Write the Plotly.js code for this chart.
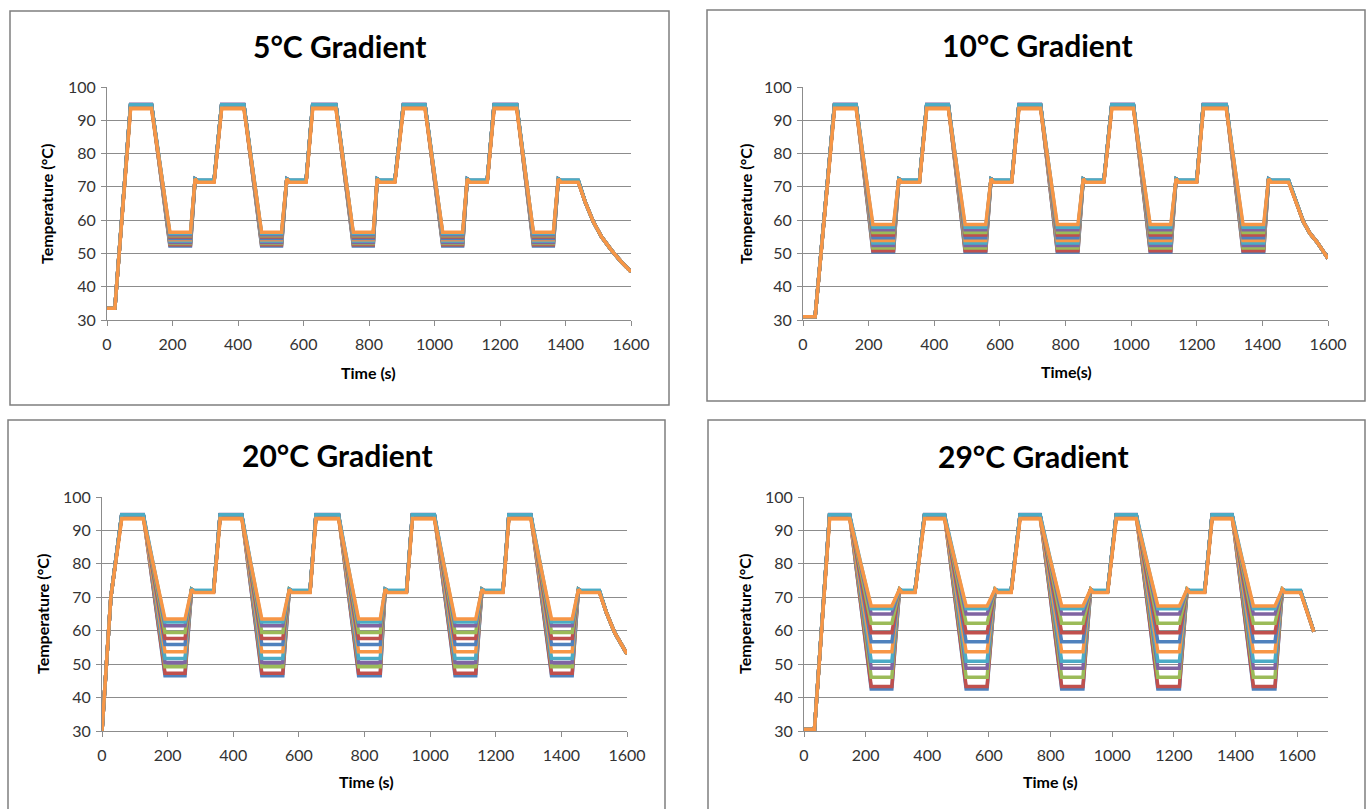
<!DOCTYPE html>
<html>
<head>
<meta charset="utf-8">
<script src="https://cdn.plot.ly/plotly-3.0.1.min.js"></script>
<style>html,body{margin:0;padding:0;background:#fff;}#chart{width:1367px;height:809px;}</style>
</head>
<body>
<div id="chart"></div>
<script>
// ---- DATA ----
// Tokens in profiles: H = top hold (per series), L = low hold (per series), M = 72°C hold (per series)
const H = 'H', L = 'L', M = 'M';

const seriesColors = ['#4F81BD', '#C0504D', '#9BBB59', '#8064A2', '#4BACC6', '#F79646',
                      '#4F81BD', '#C0504D', '#9BBB59', '#8064A2', '#4BACC6', '#F79646'];
const topTemps = [94.6, 94.5, 94.7, 94.8, 94.7, 93.5, 94.6, 94.4, 94.5, 94.6, 94.7, 93.6];
const midTemps = [71.8, 71.7, 71.9, 71.8, 72.0, 71.5, 71.8, 71.7, 71.8, 71.9, 72.0, 71.4];

const panelTitles = ['5°C Gradient', '10°C Gradient', '20°C Gradient', '29°C Gradient'];
const yTitle = 'Temperature (°C)';
const xTitles = ['Time (s)', 'Time(s)', 'Time (s)', 'Time (s)'];
const xTickVals = [0, 200, 400, 600, 800, 1000, 1200, 1400, 1600];
const yTickVals = [30, 40, 50, 60, 70, 80, 90, 100];

// 5°C gradient
const p1Times = [0, 24, 72, 136, 192, 255, 269, 277, 327, 350, 418, 472, 533, 549, 557, 608, 628, 699, 752, 813, 825, 833, 879, 905, 971, 1025, 1086, 1100, 1108, 1161, 1182, 1251, 1302, 1363, 1378, 1386, 1439, 1460, 1485, 1510, 1540, 1570, 1600];
const p1Profile = [33.5, 33.5, H, H, L, L, 72.4, M, M, H, H, L, L, 72.4, M, M, H, H, L, L, 72.4, M, M, H, H, L, L, 72.4, M, M, H, H, L, L, 72.4, M, M, 65.5, 59.5, 55, 51, 47.5, 44.5];
const p1Lows = [52.2, 52.6, 53.0, 53.3, 53.7, 54.1, 54.5, 54.9, 55.3, 55.6, 56.0, 56.4];

// 10°C gradient
const p2Times = [0, 37, 96, 162, 213, 276, 292, 300, 355, 377, 443, 494, 557, 573, 581, 636, 658, 724, 775, 838, 854, 862, 917, 941, 1007, 1058, 1121, 1137, 1145, 1200, 1220, 1290, 1341, 1404, 1419, 1427, 1480, 1503, 1525, 1545, 1566, 1600];
const p2Profile = [31, 31, H, H, L, L, 72.4, M, M, H, H, L, L, 72.4, M, M, H, H, L, L, 72.4, M, M, H, H, L, L, 72.4, M, M, H, H, L, L, 72.4, M, M, 65.5, 59.5, 56, 53.5, 48.5];
const p2Lows = [50.4, 50.8, 51.6, 52.4, 53.1, 53.9, 54.7, 55.5, 56.3, 57.1, 57.9, 58.7];

// 20°C gradient
const p3Times = [0, 27, 60, 126, 192, 253, 273, 281, 340, 360, 426, 487, 551, 571, 579, 634, 652, 721, 782, 848, 863, 871, 928, 946, 1013, 1076, 1139, 1158, 1166, 1222, 1240, 1307, 1370, 1433, 1452, 1460, 1516, 1537, 1562, 1587, 1600];
const p3Profile = [30, 70, H, H, L, L, 72.4, M, M, H, H, L, L, 72.4, M, M, H, H, L, L, 72.4, M, M, H, H, L, L, 72.4, M, M, H, H, L, L, 72.4, M, M, 65.5, 59.5, 55, 53];
const p3Lows = [46.5, 47.3, 49.2, 50.5, 51.7, 53.7, 55.9, 57.7, 59.5, 61.5, 62.6, 63.5];

// 29°C gradient
const p4Times = [0, 34, 83, 148, 218, 285, 310, 318, 360, 391, 456, 526, 594, 620, 628, 672, 701, 766, 836, 905, 930, 938, 985, 1013, 1078, 1148, 1218, 1243, 1251, 1300, 1324, 1389, 1458, 1528, 1552, 1560, 1611, 1654];
const p4Profile = [30.5, 30.5, H, H, L, L, 72.4, M, M, H, H, L, L, 72.4, M, M, H, H, L, L, 72.4, M, M, H, H, L, L, 72.4, M, M, H, H, L, L, 72.4, M, M, 59.7];
const p4Lows = [42.6, 43.3, 46.1, 48.8, 50.9, 53.7, 56.7, 59.4, 62.2, 65.0, 66.6, 67.4];

// ---- BUILD ----
const W = 1367, Ht = 809;
const px = v => v / W, py = v => 1 - v / Ht;

function seriesY(profile, i, lows) {
  return profile.map(v => v === H ? topTemps[i] : v === L ? lows[i] : v === M ? midTemps[i] : v);
}

const panels = [
  {times: p1Times, profile: p1Profile, lows: p1Lows, xr: [0, 1600], box: [10, 11, 669, 405], plot: [107, 87, 631, 320], title: [339, 46], yt: [46, 204], xt: [368, 373]},
  {times: p2Times, profile: p2Profile, lows: p2Lows, xr: [0, 1600], box: [707, 10, 1365, 401], plot: [803, 87, 1328, 320], title: [1037, 45], yt: [745, 204], xt: [1066, 371]},
  {times: p3Times, profile: p3Profile, lows: p3Lows, xr: [0, 1600], box: [8, 420, 665, 812], plot: [102, 497, 627, 731], title: [337, 455], yt: [42, 614], xt: [366, 781]},
  {times: p4Times, profile: p4Profile, lows: p4Lows, xr: [0, 1700], box: [708, 420, 1365, 812], plot: [804, 497, 1328, 731], title: [1033, 456], yt: [744, 614], xt: [1050, 781]}
];

const FONT = 'Lato, "Open Sans", sans-serif';
const traces = [];
const layout = {
  width: W, height: Ht,
  margin: {l: 0, r: 0, t: 0, b: 0},
  paper_bgcolor: '#fff', plot_bgcolor: '#fff',
  showlegend: false,
  font: {family: FONT, color: '#404040'},
  shapes: [], annotations: []
};

const gridC = '#8c8c8c';
panels.forEach((p, k) => {
  const n = k === 0 ? '' : String(k + 1);
  for (let i = 0; i < p.lows.length; i++) {
    traces.push({
      type: 'scatter', mode: 'lines',
      x: p.times, y: seriesY(p.profile, i, p.lows),
      line: {color: seriesColors[i], width: 3.5},
      xaxis: 'x' + n, yaxis: 'y' + n,
      hoverinfo: 'skip', showlegend: false
    });
  }
  layout['xaxis' + n] = {
    domain: [px(p.plot[0]), px(p.plot[2])], range: p.xr, anchor: 'y' + n,
    tickmode: 'array', tickvals: xTickVals, ticktext: xTickVals.map(String),
    ticks: 'outside', ticklen: 5, tickcolor: gridC, tickwidth: 1,
    showline: true, linecolor: gridC, linewidth: 1,
    showgrid: false, zeroline: false, fixedrange: true, ticklabelstandoff: 5,
    tickfont: {family: FONT, size: 16, color: '#333'}
  };
  layout['yaxis' + n] = {
    domain: [py(p.plot[3]), py(p.plot[1])], range: [30, 100], anchor: 'x' + n,
    tickmode: 'array', tickvals: yTickVals, ticktext: yTickVals.map(String),
    ticks: 'outside', ticklen: 5, tickcolor: gridC, tickwidth: 1,
    showline: true, linecolor: gridC, linewidth: 1,
    showgrid: true, gridcolor: gridC, gridwidth: 1,
    zeroline: false, fixedrange: true, ticklabelstandoff: 2,
    tickfont: {family: FONT, size: 16, color: '#333'}
  };
  layout.shapes.push({
    type: 'rect', xref: 'paper', yref: 'paper',
    x0: px(p.box[0]), x1: px(p.box[2]), y0: py(p.box[3]), y1: py(p.box[1]),
    line: {color: '#7f7f7f', width: 1.5}, fillcolor: 'rgba(0,0,0,0)', layer: 'below'
  });
  layout.annotations.push({
    xref: 'paper', yref: 'paper', x: px(p.title[0]), y: py(p.title[1]),
    xanchor: 'center', yanchor: 'middle', showarrow: false,
    text: '<b>' + panelTitles[k] + '</b>',
    font: {family: FONT, size: 30, color: '#000'}
  });
  layout.annotations.push({
    xref: 'paper', yref: 'paper', x: px(p.yt[0]), y: py(p.yt[1]),
    xanchor: 'center', yanchor: 'middle', showarrow: false, textangle: -90,
    text: '<b>' + yTitle + '</b>',
    font: {family: FONT, size: 16, color: '#000'}
  });
  layout.annotations.push({
    xref: 'paper', yref: 'paper', x: px(p.xt[0]), y: py(p.xt[1]),
    xanchor: 'center', yanchor: 'middle', showarrow: false,
    text: '<b>' + xTitles[k] + '</b>',
    font: {family: FONT, size: 16, color: '#000'}
  });
});

Plotly.newPlot('chart', traces, layout, {staticPlot: true, displayModeBar: false});
</script>
</body>
</html>
